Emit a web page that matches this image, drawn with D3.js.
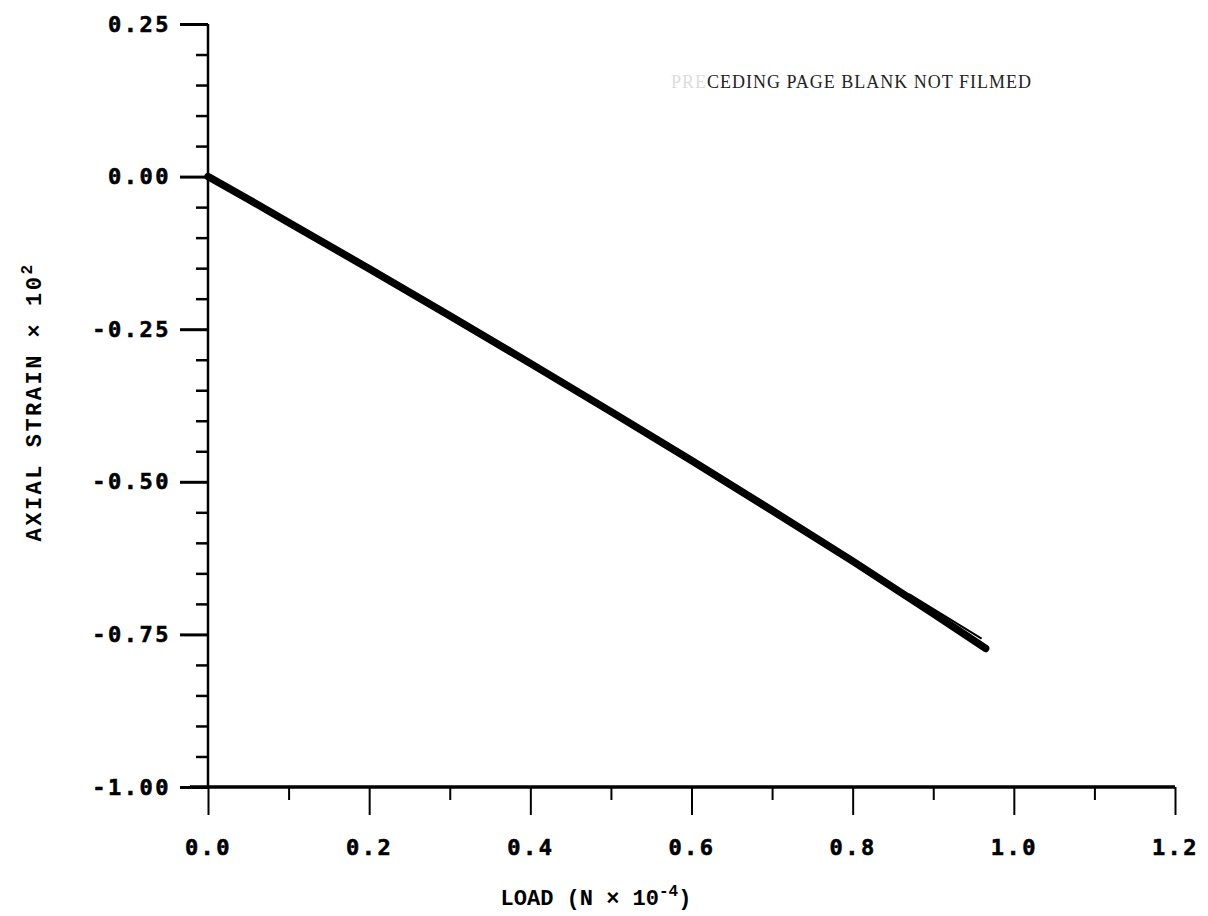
<!DOCTYPE html>
<html>
<head>
<meta charset="utf-8">
<script src="https://cdn.jsdelivr.net/npm/d3@7"></script>
<style>
  html, body { margin: 0; padding: 0; background: #fff; }
  svg { display: block; }
</style>
</head>
<body>
<svg id="chart" width="1208" height="916"></svg>
<script>
// ---- data ----
const loadValues   = [0, 0.05, 0.10, 0.20, 0.30, 0.40, 0.50, 0.60, 0.70, 0.80, 0.90, 0.965];
const strainValues = [0, -0.037, -0.075, -0.151, -0.228, -0.306, -0.385, -0.465, -0.547, -0.630, -0.716, -0.773];
const tailLoad     = [0.87, 0.96];
const tailStrain   = [-0.684, -0.757];
const xTicks = [0, 0.2, 0.4, 0.6, 0.8, 1.0, 1.2];
const xTickLabels = ["0.0", "0.2", "0.4", "0.6", "0.8", "1.0", "1.2"];
const xMinorTicks = [0.1, 0.3, 0.5, 0.7, 0.9, 1.1];
const yTicks = [0.25, 0, -0.25, -0.5, -0.75, -1.0];
const yTickLabels = ["0.25", "0.00", "-0.25", "-0.50", "-0.75", "-1.00"];
const yMinorTicks = [0.20, 0.15, 0.10, 0.05, -0.05, -0.10, -0.15, -0.20, -0.30, -0.35, -0.40, -0.45,
                     -0.55, -0.60, -0.65, -0.70, -0.80, -0.85, -0.90, -0.95];

const svg = d3.select("#chart");
const x = d3.scaleLinear().domain([0, 1.2]).range([208, 1175]);
const y = d3.scaleLinear().domain([0.25, -1.0]).range([24, 787]);

const tickFont = "'DejaVu Sans Mono', monospace";
const titleFont = "'Liberation Mono', 'Courier New', monospace";

// y axis major
const yAxis = svg.append("g").attr("transform", `translate(${x(0)},0)`)
  .call(d3.axisLeft(y).tickValues(yTicks).tickSize(28).tickPadding(9)
        .tickFormat((d, i) => yTickLabels[i]));
yAxis.select(".domain").attr("stroke", "#000").attr("stroke-width", 2.5).attr("d", `M0,${y(0.25)}V${y(-1.0)}`);
yAxis.selectAll(".tick line").attr("stroke", "#000").attr("stroke-width", 3);
yAxis.selectAll(".tick text").attr("font-family", tickFont).attr("font-weight", "bold")
  .attr("font-size", 22).attr("letter-spacing", 2.5).attr("fill", "#000")
  .attr("stroke", "#000").attr("stroke-width", 0.6);

// y axis minor
const yMinor = svg.append("g").attr("transform", `translate(${x(0)},0)`)
  .call(d3.axisLeft(y).tickValues(yMinorTicks).tickSize(12).tickFormat(""));
yMinor.select(".domain").remove();
yMinor.selectAll(".tick line").attr("stroke", "#000").attr("stroke-width", 2.5);

// x axis major
const xAxis = svg.append("g").attr("transform", `translate(0,${y(-1.0)})`)
  .call(d3.axisBottom(x).tickValues(xTicks).tickSize(28).tickPadding(24)
        .tickFormat((d, i) => xTickLabels[i]));
xAxis.select(".domain").attr("stroke", "#000").attr("stroke-width", 3.5).attr("d", `M${x(0) - 18},0H${x(1.2)}`);
xAxis.selectAll(".tick line").attr("stroke", "#000").attr("stroke-width", 2);
xAxis.selectAll(".tick text").attr("font-family", tickFont).attr("font-weight", "bold")
  .attr("font-size", 22).attr("letter-spacing", 2.5).attr("fill", "#000")
  .attr("stroke", "#000").attr("stroke-width", 0.6);

// x axis minor
const xMinor = svg.append("g").attr("transform", `translate(0,${y(-1.0)})`)
  .call(d3.axisBottom(x).tickValues(xMinorTicks).tickSize(13).tickFormat(""));
xMinor.select(".domain").remove();
xMinor.selectAll(".tick line").attr("stroke", "#000").attr("stroke-width", 2);

// data line
const line = d3.line().x(d => x(d[0])).y(d => y(d[1]));
const pts = loadValues.map((v, i) => [v, strainValues[i]]);
svg.append("path").datum(pts).attr("d", line)
  .attr("fill", "none").attr("stroke", "#000").attr("stroke-width", 7.5)
  .attr("stroke-linecap", "round").attr("stroke-linejoin", "round");
const tail = tailLoad.map((v, i) => [v, tailStrain[i]]);
svg.append("path").datum(tail).attr("d", line)
  .attr("fill", "none").attr("stroke", "#000").attr("stroke-width", 2);

// axis titles
svg.append("text")
  .attr("transform", `translate(41,${402}) rotate(-90)`)
  .attr("text-anchor", "middle").attr("font-family", titleFont).attr("font-weight", "bold")
  .attr("font-size", 22).attr("letter-spacing", 2.5).attr("fill", "#000")
  .text("AXIAL STRAIN × 10")
  .append("tspan").attr("dy", -9).attr("font-size", 16).text("2");

svg.append("text")
  .attr("x", 596).attr("y", 905)
  .attr("text-anchor", "middle").attr("font-family", titleFont).attr("font-weight", "bold")
  .attr("font-size", 22).attr("fill", "#000")
  .text("LOAD  (N × 10")
  .call(t => t.append("tspan").attr("dy", -9).attr("font-size", 16).text("-4"))
  .call(t => t.append("tspan").attr("dy", 9).text(")"));

// stamped note
const note = svg.append("text")
  .attr("x", 1032).attr("y", 88)
  .attr("text-anchor", "end").attr("font-family", "'Liberation Serif', 'Times New Roman', serif")
  .attr("font-size", 18).attr("letter-spacing", 1).attr("fill", "#222");
note.append("tspan").attr("fill", "#dddddd").text("PRE");
note.append("tspan").text("CEDING PAGE BLANK NOT FILMED");
</script>
</body>
</html>
